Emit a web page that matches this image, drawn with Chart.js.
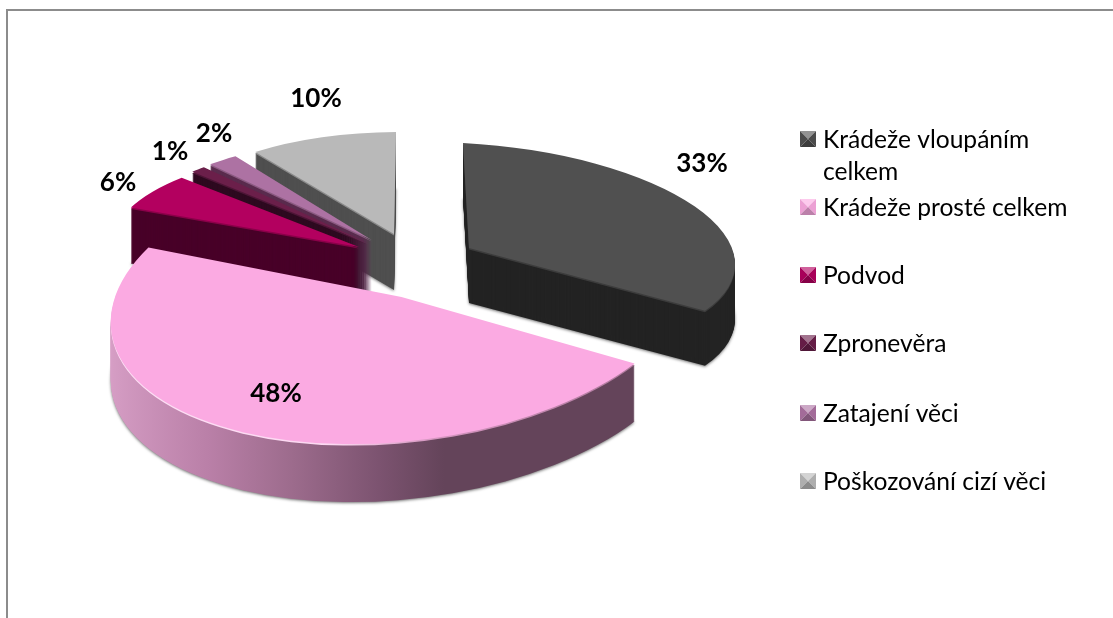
<!DOCTYPE html>
<html>
<head>
<meta charset="utf-8">
<script src="https://cdn.jsdelivr.net/npm/chart.js@4"></script>
<style>
html,body{margin:0;padding:0;background:#fff;overflow:hidden}
#wrap{position:relative;width:1113px;height:618px}
#frame{position:absolute;left:6px;top:9px;right:0;bottom:0;border-top:2px solid #8c8c8c;border-left:2px solid #8c8c8c;box-sizing:border-box}
canvas{position:absolute;left:0;top:0}
</style>
</head>
<body>
<div id="wrap"><div id="frame"></div><canvas id="c" width="1113" height="618"></canvas></div>
<script>
const categories = ["Krádeže vloupáním celkem","Krádeže prosté celkem","Podvod","Zpronevěra","Zatajení věci","Poškozování cizí věci"];
const values = [33,48,6,1,2,10];
const topColors = ["#505050","#fbaae2","#b3005f","#6b1f4a","#ad72a3","#b9b9b9"];
const sideColors = ["#232323",null,"#480028","#2e0a20","#5a2c4e","#4f4f4f"];
const rimColors = ["#3c3c3c",null,"#8a0049","#4d1536","#8a5a80","#8a8a8a"];

// Projection of each exploded slice: apex, horizontal axis, vertical axis
const views = [
  {A:[469,248],U:[266,14],V:[-6,-105]},
  {A:[401.5,297],U:[288,-5],V:[40,-147]},
  {A:[359,247],U:[247,4],V:[4,-97]},
  {A:[367.7,243],U:[250,2],V:[10,-102]},
  {A:[371.7,240],U:[251,2],V:[14,-102]},
  {A:[394,234],U:[239,-1],V:[2,-102]}
];
const drawOrder = [5,4,3,2,0,1];
const depths = [55,58,56,56,56,56];
const pinkSideStops = [[0,"#d79fc6"],[.22,"#ba80a8"],[.38,"#9c6b8c"],[.53,"#7c5370"],[.64,"#64445a"],[1,"#64445a"]];
const pinkRimStops = [[0,"#fde0f5"],[.45,"#fdd8f2"],[.62,"#d596c0"],[1,"#a87496"]];
const labelPos = [[702,164],[276,394],[118,183],[170,152],[214,134],[316,99]];
const legendY = [139,207,275,343,413,481];
const legendTextShift = 1;
const legendLineGap = 32;
const legendFont = '24.6px Lato';
const labelFont = 'bold 26px Lato';

function mix(hex,t,target){
  const n=parseInt(hex.slice(1),16);
  const ch=[n>>16&255,n>>8&255,n&255].map(c=>Math.round(c+(target-c)*t));
  return 'rgb('+ch.join(',')+')';
}
function bevel(ctx,x,y,s,col){
  const m=x+s/2,n=y+s/2;
  const tri=(pts,fill)=>{ctx.beginPath();pts.forEach((p,i)=>i?ctx.lineTo(p[0],p[1]):ctx.moveTo(p[0],p[1]));ctx.closePath();ctx.fillStyle=fill;ctx.fill();};
  tri([[x,y],[x+s,y],[m,n]],mix(col,.38,255));
  tri([[x,y],[x,y+s],[m,n]],mix(col,.06,0));
  tri([[x+s,y],[x+s,y+s],[m,n]],mix(col,.06,0));
  tri([[x,y+s],[x+s,y+s],[m,n]],mix(col,.25,0));
}

const pie3d = {
  id:'pie3d',
  beforeDatasetsDraw(chart){
    const ctx=chart.ctx, arcs=chart.getDatasetMeta(0).data;
    drawOrder.forEach(i=>{
      const e=arcs[i], v=views[i], R=e.outerRadius, orig=e.options, depth=depths[i];
      const a=v.U[0]/R,b=v.U[1]/R,c=-v.V[0]/R,d=-v.V[1]/R;
      const tx=v.A[0]-(a*e.x+c*e.y), ty=v.A[1]-(b*e.x+d*e.y);
      const grad=stops=>{const g=ctx.createLinearGradient(e.x-R,0,e.x+R,0);stops.forEach(s=>g.addColorStop(s[0],s[1]));return g;};
      const side=sideColors[i]||grad(pinkSideStops);
      const rim=rimColors[i]||grad(pinkRimStops);
      const paint=(k,color)=>{
        ctx.setTransform(a,b,c,d,tx,ty+k);
        e.options=Object.assign(Object.create(orig),{backgroundColor:color,borderWidth:0,offset:0,spacing:0});
        e.draw(ctx);
      };
      ctx.save();
      ctx.shadowColor='rgba(0,0,0,.55)';ctx.shadowBlur=3;ctx.shadowOffsetY=1;
      paint(depth,side);
      ctx.shadowColor='transparent';
      for(let k=depth-1;k>=2;k--) paint(k,side);
      paint(1.5,rim);
      paint(0,topColors[i]);
      e.options=orig;
      ctx.restore();
    });
    ctx.setTransform(1,0,0,1,0,0);
    return false;
  },
  afterDraw(chart){
    const ctx=chart.ctx;
    ctx.save();
    ctx.fillStyle='#000';ctx.textBaseline='middle';
    ctx.font=labelFont;ctx.textAlign='center';
    values.forEach((v,i)=>ctx.fillText(v+'%',labelPos[i][0],labelPos[i][1]));
    ctx.font=legendFont;ctx.textAlign='left';
    categories.forEach((name,i)=>{
      bevel(ctx,800,legendY[i]-8,16,topColors[i]);
      ctx.fillStyle='#000';
      const words=name.split(' ');let lines=[name];
      if(ctx.measureText(name).width>250){lines=[words.slice(0,-1).join(' '),words[words.length-1]];}
      lines.forEach((t,j)=>ctx.fillText(t,823,legendY[i]+legendTextShift+j*legendLineGap));
    });
    ctx.restore();
  }
};

new Chart(document.getElementById('c'),{
  type:'pie',
  data:{labels:categories,datasets:[{data:values,backgroundColor:topColors,borderWidth:0}]},
  options:{responsive:false,animation:false,rotation:0,
    plugins:{legend:{display:false},tooltip:{enabled:false}}},
  plugins:[pie3d]
});
</script>
</body>
</html>
